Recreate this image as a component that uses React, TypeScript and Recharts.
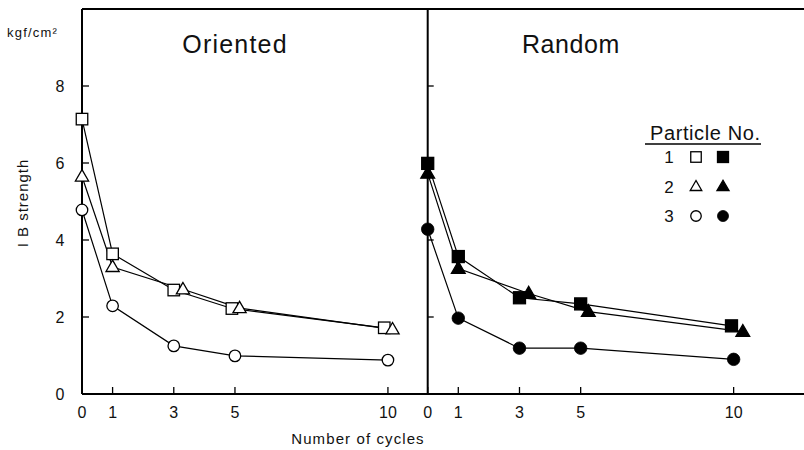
import React from 'react';
import { LineChart, Line, XAxis, YAxis, ReferenceLine } from 'recharts';

// ---- data ----
const cycles = [0, 1, 3, 5, 10];
// plotted horizontal positions (markers are nudged apart in the original figure)
const orientedX1 = [0, 1, 3, 4.9, 9.88];
const orientedX2 = [0, 1, 3.3, 5.15, 10.15];
const orientedX3 = [0, 1, 3, 5, 10];
const randomX1 = [0, 1, 3, 5, 9.93];
const randomX2 = [0, 1, 3.3, 5.25, 10.3];
const randomX3 = [0, 1, 3, 5, 10];

const oriented1 = [7.14, 3.64, 2.7, 2.22, 1.72];
const oriented2 = [5.65, 3.3, 2.72, 2.23, 1.68];
const oriented3 = [4.78, 2.29, 1.25, 0.99, 0.88];
const random1 = [5.99, 3.57, 2.5, 2.34, 1.77];
const random2 = [5.73, 3.26, 2.61, 2.14, 1.62];
const random3 = [4.28, 1.97, 1.19, 1.19, 0.9];

const yTicks = [0, 2, 4, 6, 8];
const particleNos = ['1', '2', '3'];
const panelTitles = ['Oriented', 'Random'];

// ---- layout ----
const W = 804;
const H = 450;
const PLOT_LEFT = 82;
const OFFSET = 11.3; // x offset of the "Random" panel
const X_MAX = 23.6;
const FONT = '"Liberation Sans", Arial, sans-serif';

const build = (xs: number[], ys: number[], shift: number) =>
  xs.map((x, i) => ({ x: x + shift, y: ys[i] }));

const xTicks = [...cycles, ...cycles.map((c) => c + OFFSET)];

type Kind = 'square' | 'triangle' | 'circle';

const Marker = ({ cx, cy, kind, filled, s = 12 }: { cx: number; cy: number; kind: Kind; filled: boolean; s?: number }) => {
  const fill = filled ? '#000' : '#fff';
  const sw = 1.3;
  if (kind === 'square') {
    return <rect x={cx - s / 2} y={cy - s / 2} width={s} height={s} fill={fill} stroke="#000" strokeWidth={sw} />;
  }
  if (kind === 'triangle') {
    const w = s * 1.1;
    const h = s * 0.95;
    return (
      <polygon
        points={`${cx},${cy - h * 0.6} ${cx - w / 2},${cy + h * 0.4} ${cx + w / 2},${cy + h * 0.4}`}
        fill={fill}
        stroke="#000"
        strokeWidth={sw}
        strokeLinejoin="miter"
      />
    );
  }
  return <circle cx={cx} cy={cy} r={s / 2} fill={fill} stroke="#000" strokeWidth={filled ? 0.8 : sw} />;
};

const dotFn = (kind: Kind, filled: boolean, s: number) => (props: any) => {
  if (props.cx == null || props.cy == null) return <g key={props.index} />;
  return <Marker key={`${kind}-${filled}-${props.index}`} cx={props.cx} cy={props.cy} kind={kind} filled={filled} s={s} />;
};

const XTick = (props: any) => {
  const { x, y, payload } = props;
  const v = payload.value;
  const label = v >= OFFSET - 0.01 ? Math.round(v - OFFSET) : Math.round(v);
  return (
    <g>
      <line x1={x} x2={x} y1={y} y2={y - 7} stroke="#000" strokeWidth={1.3} />
      <text x={x} y={y + 24} textAnchor="middle" fontSize={16} fontFamily={FONT} fill="#111">
        {label}
      </text>
    </g>
  );
};

const YTick = (props: any) => {
  const { x, y, payload } = props;
  const divX = x + (OFFSET / X_MAX) * (W - PLOT_LEFT);
  return (
    <g>
      {payload.value > 0 && (
        <>
          <line x1={x} x2={x + 7} y1={y} y2={y} stroke="#000" strokeWidth={1.3} />
          <line x1={divX} x2={divX + 6} y1={y} y2={y} stroke="#000" strokeWidth={1.3} />
        </>
      )}
      <text x={x - 22} y={y + 6} textAnchor="middle" fontSize={16} fontFamily={FONT} fill="#111">
        {payload.value}
      </text>
    </g>
  );
};

const series = [
  { data: build(orientedX1, oriented1, 0), kind: 'square' as Kind, filled: false, s: 11.5 },
  { data: build(orientedX2, oriented2, 0), kind: 'triangle' as Kind, filled: false, s: 12 },
  { data: build(orientedX3, oriented3, 0), kind: 'circle' as Kind, filled: false, s: 11.5 },
  { data: build(randomX1, random1, OFFSET), kind: 'square' as Kind, filled: true, s: 12 },
  { data: build(randomX2, random2, OFFSET), kind: 'triangle' as Kind, filled: true, s: 12.5 },
  { data: build(randomX3, random3, OFFSET), kind: 'circle' as Kind, filled: true, s: 12.5 },
];

const legendKinds: Kind[] = ['square', 'triangle', 'circle'];

export default function App() {
  return (
    <div style={{ position: 'absolute', left: 0, top: 0, width: W, height: H, background: '#fff' }}>
      <LineChart width={W} height={H} margin={{ top: 9, right: 0, bottom: 26, left: 0 }}>
        <XAxis
          type="number"
          dataKey="x"
          domain={[0, X_MAX]}
          ticks={xTicks}
          height={30}
          tickSize={0}
          tickMargin={0}
          tick={<XTick />}
          axisLine={{ stroke: '#000', strokeWidth: 2 }}
          tickLine={false}
          interval={0}
        />
        <YAxis
          type="number"
          domain={[0, 10]}
          ticks={yTicks}
          width={PLOT_LEFT}
          tickSize={0}
          tickMargin={0}
          tick={<YTick />}
          axisLine={{ stroke: '#000', strokeWidth: 2 }}
          tickLine={false}
          interval={0}
        />
        <ReferenceLine y={10} stroke="#000" strokeWidth={2} />
        <ReferenceLine x={OFFSET} stroke="#000" strokeWidth={2} />
        {series.map((s, i) => (
          <Line
            key={i}
            data={s.data}
            dataKey="y"
            type="linear"
            stroke="#000"
            strokeWidth={1.2}
            dot={dotFn(s.kind, s.filled, s.s)}
            activeDot={false}
            isAnimationActive={false}
            legendType="none"
          />
        ))}
      </LineChart>
      <svg
        width={W}
        height={H}
        style={{ position: 'absolute', left: 0, top: 0, pointerEvents: 'none' }}
      >
        <text x={7} y={37} fontSize={13} fontFamily={FONT} letterSpacing={1.2} fill="#111">
          kgf/cm²
        </text>
        <text
          x={0}
          y={0}
          transform="translate(28,203) rotate(-90)"
          textAnchor="middle"
          fontSize={15}
          letterSpacing={1}
          fontFamily={FONT}
          fill="#111"
        >
          I B strength
        </text>
        <text x={358} y={444} textAnchor="middle" fontSize={15} letterSpacing={1.1} fontFamily={FONT} fill="#111">
          Number of cycles
        </text>
        <text x={235} y={53} textAnchor="middle" fontSize={25} letterSpacing={1.2} fontFamily={FONT} fill="#111">
          {panelTitles[0]}
        </text>
        <text x={571} y={53} textAnchor="middle" fontSize={25} letterSpacing={0.6} fontFamily={FONT} fill="#111">
          {panelTitles[1]}
        </text>
        <text x={650} y={140} fontSize={20} letterSpacing={0.6} fontFamily={FONT} fill="#111">
          Particle No.
        </text>
        <line x1={645} x2={761} y1={144} y2={144} stroke="#000" strokeWidth={1.6} />
        {particleNos.map((p, i) => {
          const cy = 157 + i * 29.5;
          return (
            <g key={p}>
              <text x={669} y={cy + 6} textAnchor="middle" fontSize={17} fontFamily={FONT} fill="#111">
                {p}
              </text>
              <Marker cx={696} cy={cy} kind={legendKinds[i]} filled={false} s={10.5} />
              <Marker cx={723} cy={cy} kind={legendKinds[i]} filled={true} s={11} />
            </g>
          );
        })}
      </svg>
    </div>
  );
}
